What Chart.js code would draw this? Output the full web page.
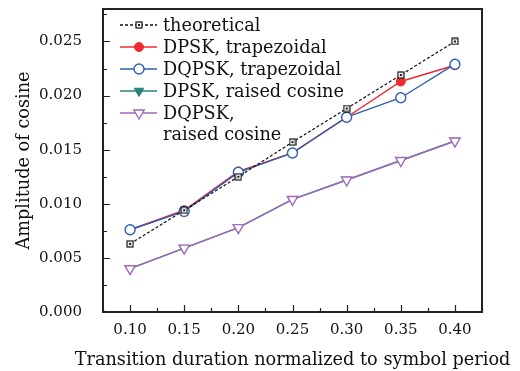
<!DOCTYPE html>
<html>
<head>
<meta charset="utf-8">
<script src="https://cdn.jsdelivr.net/npm/chart.js@4.4.1/dist/chart.umd.min.js"></script>
<style>
  html, body { margin: 0; padding: 0; background: #fff; }
  #wrap { width: 520px; height: 371px; }
</style>
</head>
<body>
<div id="wrap"><canvas id="cosChart"></canvas></div>
<script>
// === Data ===
const durations = [0.10, 0.15, 0.20, 0.25, 0.30, 0.35, 0.40];
const theoretical = [0.0063, 0.0094, 0.0125, 0.0157, 0.0188, 0.0219, 0.0250];
const dpskTrap = [0.0076, 0.0094, 0.0130, 0.0147, 0.0180, 0.0213, 0.0228];
const dqpskTrap = [0.0076, 0.0093, 0.0129, 0.0147, 0.0180, 0.0198, 0.0229];
const dpskRaised = [0.0040, 0.0059, 0.0078, 0.0104, 0.0122, 0.0140, 0.0158];
const dqpskRaised = [0.0040, 0.0059, 0.0078, 0.0104, 0.0122, 0.0140, 0.0158];
const xTicks = [0.10, 0.15, 0.20, 0.25, 0.30, 0.35, 0.40];
const yTicks = [0, 0.005, 0.010, 0.015, 0.020, 0.025];
const xTitle = "Transition duration normalized to symbol period";
const yTitle = "Amplitude of cosine";

const FONT = "'DejaVu Serif', serif";
const TEXT_SIZE = 17.7;

// square marker with a dot in the middle
function squareDot() {
  const c = document.createElement("canvas");
  c.width = 8; c.height = 8;
  const g = c.getContext("2d");
  g.fillStyle = "#fff";
  g.fillRect(1, 1, 6, 6);
  g.strokeStyle = "#111";
  g.lineWidth = 1.2;
  g.strokeRect(1, 1, 6, 6);
  g.fillStyle = "#111";
  g.fillRect(3, 3, 2, 2);
  return c;
}
const sqMark = squareDot();

const toPts = (ys) => ys.map((y, i) => ({ x: durations[i], y }));

// === Inward ticks + frame ===
const framePlugin = {
  id: "frame",
  afterDatasetsDraw(chart) {
    const { ctx, chartArea: a, scales: { x, y } } = chart;
    ctx.save();
    ctx.strokeStyle = "#222";
    ctx.lineWidth = 1.2;
    ctx.beginPath();
    for (let v = 0.075; v <= 0.4251; v += 0.025) {
      const px = Math.round(x.getPixelForValue(v)) + 0.5;
      const major = Math.abs(v * 20 - Math.round(v * 20)) < 1e-6;
      ctx.moveTo(px, a.bottom);
      ctx.lineTo(px, a.bottom - (major ? 7 : 4));
    }
    for (let v = 0.0025; v <= 0.028; v += 0.0025) {
      const py = Math.round(y.getPixelForValue(v)) + 0.5;
      const major = Math.abs(v * 200 - Math.round(v * 200)) < 1e-6;
      ctx.moveTo(a.left, py);
      ctx.lineTo(a.left + (major ? 7 : 4), py);
    }
    ctx.stroke();
    ctx.lineWidth = 2;
    ctx.strokeRect(a.left, a.top, a.right - a.left, a.bottom - a.top);

    // x title is drawn here so it is not squeezed to the axis width
    ctx.fillStyle = "#111";
    ctx.font = TEXT_SIZE + "px " + FONT;
    ctx.textAlign = "center";
    ctx.textBaseline = "alphabetic";
    ctx.fillText(xTitle, (a.left + a.right) / 2, 365);
    ctx.restore();
  }
};

// === Legend inside the plot ===
const legendPlugin = {
  id: "inLegend",
  afterDraw(chart) {
    const ctx = chart.ctx;
    ctx.save();
    ctx.font = TEXT_SIZE + "px " + FONT;
    ctx.textBaseline = "middle";
    let rowY = 25;
    chart.data.datasets.forEach((ds) => {
      ctx.strokeStyle = ds.borderColor;
      ctx.lineWidth = 1.3;
      ctx.setLineDash(ds.borderDash || []);
      ctx.beginPath();
      ctx.moveTo(120, rowY);
      ctx.lineTo(157, rowY);
      ctx.stroke();
      ctx.setLineDash([]);
      if (ds.pointStyle instanceof HTMLCanvasElement) {
        ctx.drawImage(ds.pointStyle, 135, rowY - 4);
      } else {
        ctx.fillStyle = ds.pointBackgroundColor;
        ctx.strokeStyle = ds.pointBorderColor;
        ctx.lineWidth = ds.pointBorderWidth;
        Chart.helpers.drawPoint(ctx, {
          pointStyle: ds.pointStyle,
          rotation: ds.pointRotation || 0,
          radius: ds.pointRadius,
          borderWidth: ds.pointBorderWidth
        }, 139, rowY);
      }
      ctx.fillStyle = "#111";
      const lines = ds.label.split("\n");
      lines.forEach((t, k) => ctx.fillText(t, 163, rowY + 1 + k * 21));
      rowY += 22 + (lines.length - 1) * 21;
    });
    ctx.restore();
  }
};

new Chart(document.getElementById("cosChart"), {
  type: "line",
  data: {
    datasets: [
      {
        label: "theoretical",
        data: toPts(theoretical),
        borderColor: "#111",
        borderWidth: 1.2,
        borderDash: [3, 2],
        pointStyle: sqMark,
        order: 1
      },
      {
        label: "DPSK, trapezoidal",
        data: toPts(dpskTrap),
        borderColor: "#ee2a30",
        borderWidth: 1.4,
        pointStyle: "circle",
        pointRadius: 4.5,
        pointBorderWidth: 1,
        pointBackgroundColor: "#ee2a30",
        pointBorderColor: "#ee2a30",
        order: 3
      },
      {
        label: "DQPSK, trapezoidal",
        data: toPts(dqpskTrap),
        borderColor: "#2f5fb0",
        borderWidth: 1.4,
        pointStyle: "circle",
        pointRadius: 5,
        pointBorderWidth: 1.4,
        pointBackgroundColor: "#fff",
        pointBorderColor: "#2f5fb0",
        order: 2
      },
      {
        label: "DPSK, raised cosine",
        data: toPts(dpskRaised),
        borderColor: "#2a817a",
        borderWidth: 1.4,
        pointStyle: "triangle",
        pointRotation: 180,
        pointRadius: 5.5,
        pointBorderWidth: 1,
        pointBackgroundColor: "#2a817a",
        pointBorderColor: "#2a817a",
        order: 5
      },
      {
        label: "DQPSK,\nraised cosine",
        data: toPts(dqpskRaised),
        borderColor: "#a06ab8",
        borderWidth: 1.4,
        pointStyle: "triangle",
        pointRotation: 180,
        pointRadius: 6,
        pointBorderWidth: 1.4,
        pointBackgroundColor: "#fff",
        pointBorderColor: "#a06ab8",
        order: 4
      }
    ]
  },
  options: {
    responsive: true,
    maintainAspectRatio: false,
    animation: false,
    layout: { padding: { top: 9, right: 38, left: 0, bottom: 0 } },
    plugins: {
      legend: { display: false },
      tooltip: { enabled: false }
    },
    elements: { line: { tension: 0 } },
    scales: {
      x: {
        type: "linear",
        min: 0.075,
        max: 0.425,
        afterBuildTicks: (s) => { s.ticks = xTicks.map((v) => ({ value: v })); },
        afterFit: (s) => { s.height = 59; s.paddingLeft = 0; s.paddingRight = 0; },
        grid: { display: false },
        border: { display: false },
        ticks: {
          padding: 1,
          maxRotation: 0,
          autoSkip: false,
          color: "#111",
          font: { family: FONT, size: 15 },
          callback: (v) => v.toFixed(2)
        },
        title: { display: false }
      },
      y: {
        min: 0,
        max: 0.028,
        afterBuildTicks: (s) => { s.ticks = yTicks.map((v) => ({ value: v })); },
        afterFit: (s) => { s.width = 103; s.paddingTop = 0; s.paddingBottom = 0; },
        grid: { display: false },
        border: { display: false },
        ticks: {
          padding: 13,
          color: "#111",
          font: { family: FONT, size: 15 },
          callback: (v) => v.toFixed(3)
        },
        title: {
          display: true,
          text: yTitle,
          color: "#111",
          font: { family: FONT, size: TEXT_SIZE },
          padding: { top: 14, bottom: 6 }
        }
      }
    }
  },
  plugins: [framePlugin, legendPlugin]
});
</script>
</body>
</html>
